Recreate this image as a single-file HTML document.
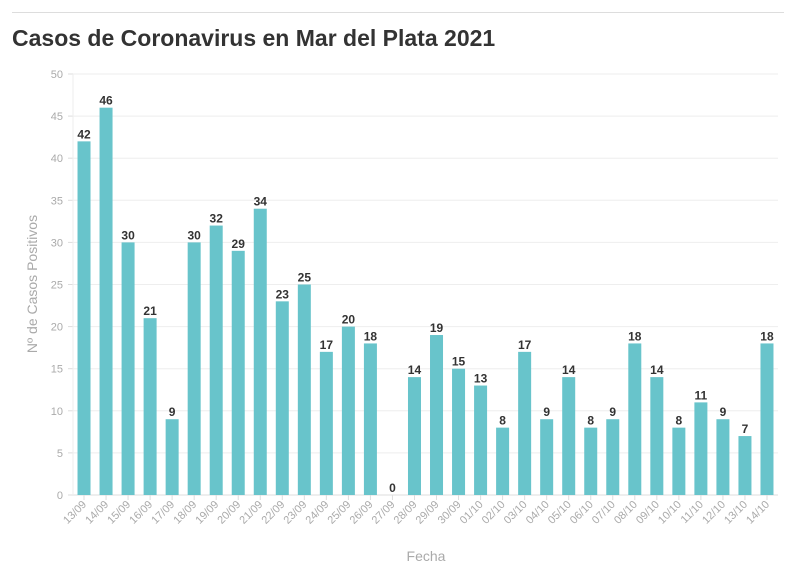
<!DOCTYPE html>
<html><head><meta charset="utf-8"><style>
body{margin:0;background:#fff;font-family:"Liberation Sans",sans-serif}
</style></head><body>
<svg width="796" height="575" xmlns="http://www.w3.org/2000/svg">
<line x1="12" y1="12.5" x2="784" y2="12.5" stroke="#ddd"/>
<text x="12" y="46" font-size="23" font-weight="bold" fill="#333">Casos de Coronavirus en Mar del Plata 2021</text>
<g id="grid"></g>
<g id="bars"></g>
<g id="xax"></g>
<text x="0" y="0" transform="translate(37,284) rotate(-90)" text-anchor="middle" font-size="14" fill="#aaa">Nº de Casos Positivos</text>
<text x="426" y="561" text-anchor="middle" font-size="14" fill="#aaa">Fecha</text>
</svg>
<script>
const categories=["13/09","14/09","15/09","16/09","17/09","18/09","19/09","20/09","21/09","22/09","23/09","24/09","25/09","26/09","27/09","28/09","29/09","30/09","01/10","02/10","03/10","04/10","05/10","06/10","07/10","08/10","09/10","10/10","11/10","12/10","13/10","14/10"];
const values=[42,46,30,21,9,30,32,29,34,23,25,17,20,18,0,14,19,15,13,8,17,9,14,8,9,18,14,8,11,9,7,18];
const yTicks=[0,5,10,15,20,25,30,35,40,45,50];
const NS="http://www.w3.org/2000/svg";
const L=73,R=778,T=74,B=495,yMax=50;
const band=(R-L)/categories.length,bw=13;
const y=v=>B-(v/yMax)*(B-T);
const xc=i=>L+band*i+band/2;
function mk(t,a,p){const e=document.createElementNS(NS,t);for(const k in a)e.setAttribute(k,a[k]);p.appendChild(e);return e;}
const grid=document.getElementById('grid'),bars=document.getElementById('bars'),xax=document.getElementById('xax');
yTicks.forEach(v=>{
 const l=mk('line',{x1:L,x2:R,y1:y(v),y2:y(v),stroke:v===0?'#ddd':'#eee'},grid);
 
 
 const tk=mk('line',{x1:L-5,x2:L,y1:y(v),y2:y(v),stroke:'#ddd'},grid);
 
 
 const t=mk('text',{x:L-10,y:y(v)+4,'text-anchor':'end','font-size':11,fill:'#aaa'},grid);
 t.textContent=v;
 
 
});
mk('line',{x1:L,x2:L,y1:T,y2:B,stroke:'#eee'},grid);
values.forEach((v,i)=>{
 const r=mk('rect',{x:xc(i)-bw/2,y:y(v),width:bw,height:B-y(v),fill:'#68c4cb'},bars);
 
 
 const t=mk('text',{x:xc(i),y:y(v)-3,'text-anchor':'middle','font-size':12,'font-weight':'bold',fill:'#333'},bars);
 t.textContent=v;
 
 
 const tk=mk('line',{x1:xc(i),x2:xc(i),y1:B,y2:B+5,stroke:'#ddd'},xax);
 
 
 const xl=mk('text',{transform:`translate(${xc(i)+3},${B+10}) rotate(-45)`,'text-anchor':'end','font-size':11,fill:'#aaa'},xax);
 xl.textContent=categories[i];
 
 
});
</script>
</body></html>
